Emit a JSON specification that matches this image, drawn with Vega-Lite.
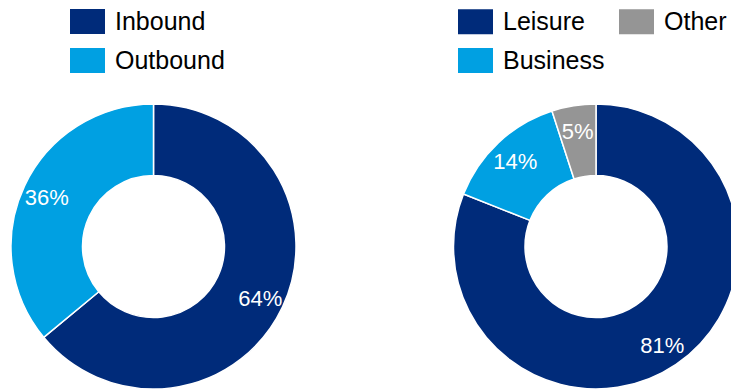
{
  "$schema": "https://vega.github.io/schema/vega-lite/v6.json",
  "width": 731,
  "height": 389,
  "autosize": {"type": "none"},
  "padding": 0,
  "background": "white",
  "config": {"view": {"stroke": null}},
  "data": {
    "values": [
      {"chart": "L", "cat": "Inbound", "v": 64, "ord": 1, "lbl": "64%"},
      {"chart": "L", "cat": "Outbound", "v": 36, "ord": 2, "lbl": "36%"},
      {"chart": "R", "cat": "Leisure", "v": 81, "ord": 1, "lbl": "81%"},
      {"chart": "R", "cat": "Business", "v": 14, "ord": 2, "lbl": "14%"},
      {"chart": "R", "cat": "Other", "v": 5, "ord": 3, "lbl": "5%"}
    ]
  },
  "layer": [
    {
      "transform": [{"filter": "datum.chart === 'L'"}],
      "mark": {"type": "arc", "outerRadius": 142.5, "innerRadius": 71, "stroke": "white", "strokeWidth": 1.5},
      "encoding": {
        "x": {"datum": "L", "type": "nominal", "scale": {"type": "point", "domain": ["L", "R"], "range": [153.5, 596], "padding": 0}, "axis": null},
        "y": {"datum": "c", "type": "nominal", "scale": {"type": "point", "domain": ["c"], "range": [104, 389]}, "axis": null},
        "theta": {"field": "v", "type": "quantitative", "stack": true, "scale": {"domain": [0, 100]}},
        "order": {"field": "ord", "type": "quantitative"},
        "color": {
          "field": "cat", "type": "nominal",
          "scale": {"domain": ["Inbound", "Outbound"], "range": ["#002B7A", "#00A0E2"]},
          "legend": {
            "title": null, "orient": "none", "legendX": 70, "legendY": 4, "padding": 0,
            "symbolType": "M-1,-0.714H1V0.714H-1Z", "symbolSize": 1225, "symbolStrokeWidth": 0, "symbolOpacity": 1,
            "labelFont": "Liberation Sans", "labelFontSize": 25, "labelColor": "#000000", "labelOffset": 10,
            "rowPadding": 8, "labelLimit": 300
          }
        }
      }
    },
    {
      "transform": [{"filter": "datum.chart === 'L'"}],
      "mark": {"type": "text", "radius": 118, "fontSize": 22, "font": "Liberation Sans", "color": "white", "baseline": "middle", "align": "center", "dy": 2},
      "encoding": {
        "x": {"datum": "L", "type": "nominal"},
        "y": {"datum": "c", "type": "nominal"},
        "theta": {"field": "v", "type": "quantitative", "stack": true},
        "order": {"field": "ord", "type": "quantitative"},
        "text": {"field": "lbl", "type": "nominal"}
      }
    },
    {
      "transform": [{"filter": "datum.chart === 'R'"}],
      "mark": {"type": "arc", "outerRadius": 142.5, "innerRadius": 71, "stroke": "white", "strokeWidth": 1.5},
      "encoding": {
        "x": {"datum": "R", "type": "nominal"},
        "y": {"datum": "c", "type": "nominal"},
        "theta": {"field": "v", "type": "quantitative", "stack": true},
        "order": {"field": "ord", "type": "quantitative"},
        "color": {
          "field": "cat", "type": "nominal",
          "scale": {"domain": ["Leisure", "Business", "Other"], "range": ["#002B7A", "#00A0E2", "#959595"]},
          "legend": {
            "title": null, "orient": "none", "legendX": 458, "legendY": 4, "padding": 0, "columns": 2, "columnPadding": 14,
            "symbolType": "M-1,-0.714H1V0.714H-1Z", "symbolSize": 1225, "symbolStrokeWidth": 0, "symbolOpacity": 1,
            "labelFont": "Liberation Sans", "labelFontSize": 25, "labelColor": "#000000", "labelOffset": 10,
            "rowPadding": 8, "labelLimit": 300
          }
        }
      }
    },
    {
      "transform": [{"filter": "datum.chart === 'R'"}],
      "mark": {"type": "text", "radius": 118, "fontSize": 22, "font": "Liberation Sans", "color": "white", "baseline": "middle", "align": "center", "dy": 2},
      "encoding": {
        "x": {"datum": "R", "type": "nominal"},
        "y": {"datum": "c", "type": "nominal"},
        "theta": {"field": "v", "type": "quantitative", "stack": true},
        "order": {"field": "ord", "type": "quantitative"},
        "text": {"field": "lbl", "type": "nominal"}
      }
    }
  ],
  "resolve": {"scale": {"color": "independent"}, "legend": {"color": "independent"}}
}
